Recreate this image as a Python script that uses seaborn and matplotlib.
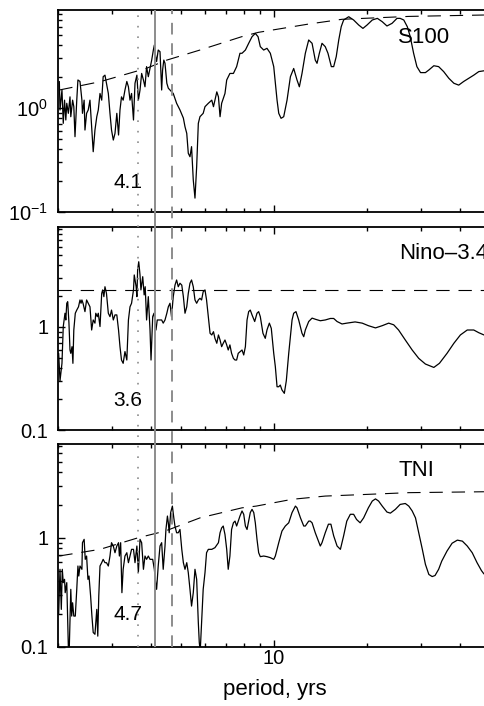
import numpy as np
import pandas as pd
import matplotlib
matplotlib.use("Agg")
import matplotlib.pyplot as plt
import matplotlib.ticker as mticker
import seaborn as sns

# S100 spectrum (period in yrs, power) + significance curve
s100_period = [2.02, 2.03, 2.06, 2.08, 2.10, 2.12, 2.135, 2.16, 2.187, 2.20,
               2.23, 2.25, 2.27, 2.30, 2.32, 2.356, 2.39, 2.40, 2.43, 2.445,
               2.475, 2.505, 2.538, 2.60, 2.634, 2.67, 2.70, 2.735, 2.77, 2.80,
               2.838, 2.87, 2.91, 2.946, 2.98, 3.02, 3.058, 3.10, 3.14, 3.174,
               3.21, 3.25, 3.294, 3.34, 3.38, 3.42, 3.46, 3.51, 3.55, 3.60,
               3.64, 3.685, 3.73, 3.78, 3.824, 3.87, 3.92, 3.97, 4.02, 4.07,
               4.10, 4.14, 4.17, 4.22, 4.277, 4.33, 4.36, 4.40, 4.439, 4.50,
               4.55, 4.607, 4.72, 4.84, 4.963, 5.09, 5.152, 5.22, 5.28, 5.347,
               5.41, 5.48, 5.55, 5.62, 5.69, 5.76, 5.90, 5.98, 6.13, 6.29,
               6.37, 6.53, 6.61, 6.69, 6.77, 6.94, 7.03, 7.20, 7.39, 7.57,
               7.76, 7.88, 8.08, 8.28, 8.49, 8.70, 8.88, 9.03, 9.26, 9.49,
               9.73, 9.98, 10.1, 10.23, 10.36, 10.54, 10.75, 11.02, 11.3, 11.58,
               11.87, 12.08, 12.32, 12.63, 12.95, 13.28, 13.6, 13.78, 14.02, 14.3,
               14.65, 14.95, 15.33, 15.6, 15.9, 16.2, 16.5, 16.8, 17.45, 18.1,
               18.8, 19.4, 20.0, 20.8, 21.6, 22.4, 23.2, 24.1, 25.0, 25.6,
               26.3, 27.0, 27.6, 28.3, 29.0, 29.8, 30.9, 31.7, 32.9, 34.1,
               35.4, 36.8, 38.2, 39.6, 41.1, 42.7, 44.3, 46.0, 47.8]
s100_power = [1.80, 0.957, 1.49, 0.712, 1.19, 0.767, 1.11, 0.889, 1.28, 0.825,
              1.19, 1.03, 0.530, 1.19, 1.86, 1.80, 1.19, 0.889, 1.19, 0.614,
              0.889, 0.957, 1.19, 0.380, 0.614, 0.825, 0.957, 1.38, 1.19, 2.00,
              2.07, 1.73, 1.38, 0.889, 0.614, 0.492, 0.570, 0.889, 0.55, 0.957,
              1.28, 1.19, 1.49, 1.80, 1.60, 1.19, 1.38, 0.767, 1.73, 2.07,
              1.19, 1.49, 2.15, 1.86, 1.60, 2.50, 2.00, 2.42, 2.89, 3.61,
              4.03, 3.12, 2.80, 3.61, 3.48, 1.49, 2.32, 2.89, 2.69, 1.73,
              1.55, 1.49, 1.38, 1.11, 0.957, 0.80, 0.661, 0.570, 0.367, 0.340,
              0.425, 0.203, 0.136, 0.273, 0.712, 0.825, 0.889, 1.03, 1.11, 1.19,
              1.03, 1.43, 1.28, 0.825, 1.11, 1.38, 1.86, 2.15, 2.15, 2.50,
              3.36, 3.36, 3.61, 4.19, 4.85, 5.22, 4.85, 3.89, 3.61, 3.75,
              3.36, 2.50, 1.73, 1.19, 0.889, 0.796, 0.825, 1.19, 2.00, 2.40,
              1.86, 1.60, 2.15, 3.36, 4.51, 4.19, 2.89, 2.69, 3.36, 4.19,
              3.89, 3.36, 2.50, 2.50, 3.12, 4.51, 6.05, 7.02, 7.55, 7.02,
              6.28, 5.83, 6.28, 7.02, 7.28, 6.76, 6.15, 6.52, 7.28, 7.28,
              7.02, 6.05, 4.85, 3.36, 2.50, 2.19, 2.19, 2.32, 2.55, 2.50,
              2.24, 1.93, 1.73, 1.66, 1.80, 1.93, 2.07, 2.24, 2.28]
s100_sig_period = [2.02, 2.735, 3.87, 4.5, 5.76, 7.86, 8.9, 12.95, 16.6, 27.3, 47.8]
s100_sig = [1.49, 1.79, 2.41, 2.89, 3.61, 4.85, 5.34, 6.42, 7.13, 7.6, 7.84]

# Nino-3.4 spectrum
nino_period = [2.01, 2.03, 2.06, 2.08, 2.107, 2.12, 2.135, 2.15, 2.17, 2.187,
               2.20, 2.22, 2.235, 2.25, 2.275, 2.30, 2.33, 2.356, 2.375, 2.39,
               2.41, 2.445, 2.475, 2.505, 2.538, 2.57, 2.60, 2.634, 2.65, 2.68,
               2.70, 2.735, 2.77, 2.79, 2.815, 2.838, 2.87, 2.91, 2.946, 2.98,
               3.02, 3.058, 3.10, 3.14, 3.174, 3.21, 3.25, 3.294, 3.34, 3.38,
               3.42, 3.46, 3.51, 3.53, 3.58, 3.60, 3.62, 3.65, 3.685, 3.71,
               3.76, 3.80, 3.83, 3.87, 3.92, 3.97, 4.0, 4.05, 4.09, 4.15,
               4.19, 4.25, 4.33, 4.38, 4.439, 4.50, 4.55, 4.607, 4.66, 4.72,
               4.782, 4.84, 4.90, 4.963, 5.03, 5.09, 5.152, 5.22, 5.28, 5.347,
               5.41, 5.48, 5.55, 5.62, 5.69, 5.76, 5.83, 5.90, 5.98, 6.05,
               6.13, 6.21, 6.29, 6.37, 6.44, 6.53, 6.61, 6.69, 6.77, 6.85,
               6.94, 7.03, 7.11, 7.20, 7.29, 7.39, 7.48, 7.57, 7.66, 7.88,
               7.98, 8.08, 8.18, 8.28, 8.38, 8.49, 8.66, 8.81, 8.92, 9.03,
               9.21, 9.37, 9.49, 9.66, 9.80, 9.98, 10.1, 10.23, 10.36, 10.48,
               10.61, 10.8, 10.96, 11.16, 11.44, 11.58, 11.78, 12.02, 12.32, 12.48,
               12.63, 12.95, 13.28, 13.6, 14.12, 14.65, 15.22, 15.6, 16.0, 16.6,
               17.2, 18.3, 19.3, 20.2, 21.3, 22.4, 23.5, 24.4, 25.3, 26.6,
               28.0, 29.4, 30.9, 32.9, 34.3, 36.3, 38.2, 40.1, 42.2, 44.3,
               46.0, 47.8]
nino_power = [0.555, 0.30, 0.444, 1.01, 1.36, 1.17, 1.70, 1.76, 1.09, 0.598,
              0.555, 0.644, 0.444, 0.935, 1.36, 1.46, 1.57, 1.83, 1.70, 1.83,
              1.70, 1.41, 1.83, 1.70, 1.57, 0.935, 1.17, 1.09, 1.36, 1.26,
              1.36, 1.01, 2.12, 2.29, 1.97, 2.46, 2.12, 1.36, 1.26, 1.46,
              1.17, 1.31, 1.31, 0.935, 0.644, 0.478, 0.444, 0.577, 0.478, 1.17,
              1.57, 1.70, 2.29, 3.2, 2.46, 1.97, 3.58, 4.3, 3.2, 2.29,
              3.08, 2.05, 2.46, 1.17, 1.97, 0.935, 0.478, 1.26, 1.36, 0.935,
              1.17, 1.17, 1.17, 1.09, 1.17, 1.36, 1.57, 1.70, 1.26, 1.97,
              2.55, 2.86, 2.46, 2.66, 2.55, 1.97, 1.36, 1.57, 2.12, 2.66,
              2.86, 2.46, 1.83, 1.70, 1.83, 1.90, 1.83, 2.20, 2.29, 1.83,
              1.26, 0.869, 0.837, 0.90, 0.776, 0.695, 0.837, 0.748, 0.644, 0.695,
              0.748, 0.67, 0.598, 0.67, 0.555, 0.496, 0.478, 0.478, 0.555, 0.598,
              0.535, 0.644, 1.17, 1.41, 1.46, 1.31, 1.13, 1.36, 1.41, 1.26,
              0.869, 0.776, 0.935, 1.09, 0.97, 0.555, 0.412, 0.263, 0.263, 0.273,
              0.245, 0.227, 0.30, 0.555, 1.17, 1.36, 1.41, 1.17, 0.869, 0.805,
              0.935, 1.13, 1.22, 1.19, 1.15, 1.17, 1.21, 1.21, 1.13, 1.07,
              1.09, 1.12, 1.09, 1.03, 0.98, 1.03, 1.09, 1.05, 0.935, 0.748,
              0.598, 0.496, 0.437, 0.405, 0.444, 0.555, 0.695, 0.837, 0.935, 0.935,
              0.88, 0.837]
nino_sig = 2.29

# TNI spectrum
tni_period = [2.01, 2.03, 2.05, 2.065, 2.08, 2.10, 2.11, 2.135, 2.16, 2.175,
              2.20, 2.215, 2.23, 2.25, 2.275, 2.30, 2.32, 2.335, 2.356, 2.39,
              2.40, 2.43, 2.45, 2.475, 2.50, 2.52, 2.55, 2.575, 2.60, 2.634,
              2.67, 2.69, 2.71, 2.735, 2.77, 2.80, 2.838, 2.87, 2.91, 2.946,
              2.98, 3.02, 3.058, 3.10, 3.14, 3.16, 3.19, 3.22, 3.25, 3.294,
              3.34, 3.38, 3.42, 3.46, 3.51, 3.55, 3.60, 3.64, 3.685, 3.73,
              3.78, 3.824, 3.87, 3.92, 3.97, 4.05, 4.10, 4.14, 4.17, 4.22,
              4.277, 4.33, 4.38, 4.439, 4.47, 4.52, 4.55, 4.58, 4.63, 4.66,
              4.69, 4.74, 4.78, 4.84, 4.90, 4.963, 5.03, 5.09, 5.152, 5.22,
              5.28, 5.347, 5.41, 5.48, 5.55, 5.62, 5.69, 5.73, 5.77, 5.83,
              5.90, 5.98, 6.05, 6.13, 6.29, 6.44, 6.61, 6.69, 6.77, 6.85,
              6.94, 7.03, 7.11, 7.20, 7.29, 7.39, 7.48, 7.57, 7.76, 7.88,
              7.98, 8.08, 8.18, 8.28, 8.38, 8.49, 8.60, 8.70, 8.81, 8.92,
              9.03, 9.26, 9.49, 9.73, 9.98, 10.1, 10.36, 10.61, 10.88, 11.16,
              11.44, 11.73, 11.87, 12.18, 12.48, 12.63, 12.95, 13.1, 13.28, 13.6,
              14.12, 14.3, 14.65, 15.0, 15.28, 15.6, 16.0, 16.4, 16.8, 17.2,
              17.66, 18.1, 18.5, 19.0, 19.5, 20.2, 20.8, 21.3, 21.8, 22.4,
              23.2, 23.8, 24.7, 25.6, 26.6, 27.3, 28.0, 28.7, 29.4, 30.2,
              30.9, 31.7, 32.5, 33.2, 34.1, 34.9, 36.3, 37.7, 39.2, 40.7,
              42.2, 43.8, 45.4, 46.9, 47.8]
tni_power = [0.20, 0.513, 0.22, 0.513, 0.387, 0.415, 0.313, 0.387, 0.101, 0.095,
             0.336, 0.191, 0.253, 0.191, 0.191, 0.336, 0.550, 0.445, 0.550, 0.513,
             0.90, 0.966, 0.633, 0.679, 0.415, 0.445, 0.292, 0.191, 0.135, 0.13,
             0.220, 0.125, 0.292, 0.550, 0.590, 0.633, 0.590, 0.590, 0.550, 0.679,
             0.90, 0.839, 0.728, 0.839, 0.90, 0.679, 0.90, 0.313, 0.513, 0.679,
             0.728, 0.590, 0.679, 0.782, 0.782, 0.590, 0.839, 0.478, 0.966, 0.90,
             0.513, 0.679, 0.633, 0.679, 0.633, 0.633, 0.513, 0.387, 0.336, 0.550,
             0.839, 0.90, 0.513, 0.839, 1.19, 1.58, 1.37, 1.11, 1.70, 1.82,
             1.95, 1.52, 1.28, 1.11, 1.11, 1.19, 0.782, 0.590, 0.513, 0.590,
             0.478, 0.336, 0.236, 0.313, 0.513, 0.415, 0.166, 0.11, 0.09, 0.166,
             0.336, 0.478, 0.728, 0.782, 0.782, 0.81, 0.90, 1.11, 1.23, 1.28,
             1.07, 0.782, 0.513, 0.679, 1.19, 1.37, 1.42, 1.28, 1.58, 1.76,
             1.64, 1.28, 1.19, 1.42, 1.70, 1.82, 1.70, 1.37, 0.966, 0.728,
             0.67, 0.679, 0.67, 0.656, 0.633, 0.679, 0.90, 1.15, 1.28, 1.37,
             1.70, 1.95, 1.88, 1.52, 1.28, 1.28, 1.42, 1.42, 1.37, 1.11,
             0.839, 0.90, 1.11, 1.33, 1.33, 1.04, 0.839, 0.782, 1.04, 1.42,
             1.64, 1.64, 1.47, 1.37, 1.52, 1.88, 2.17, 2.27, 2.17, 1.95,
             1.72, 1.68, 1.82, 2.02, 2.06, 1.95, 1.76, 1.52, 1.11, 0.782,
             0.57, 0.46, 0.44, 0.45, 0.513, 0.61, 0.755, 0.89, 0.95, 0.93,
             0.839, 0.728, 0.590, 0.50, 0.465]
tni_sig_period = [2.02, 2.735, 3.64, 4.44, 5.76, 7.88, 8.76, 11.44, 14.65, 20.2, 27.3, 47.8]
tni_sig = [0.68, 0.782, 1.0, 1.15, 1.52, 1.88, 1.95, 2.25, 2.41, 2.50, 2.59, 2.64]

# marked periods: dotted, solid, dashed
mark_period = [3.63, 4.12, 4.67]
panel_names = ["S100", "Nino–3.4", "TNI"]
panel_marks = ["4.1", "3.6", "4.7"]

sns.set_style("ticks")
plt.rcParams["font.family"] = ["Liberation Sans", "DejaVu Sans"]
plt.rcParams["mathtext.fontset"] = "custom"
plt.rcParams["mathtext.rm"] = "Liberation Sans"
plt.rcParams["mathtext.it"] = "Liberation Sans:italic"
plt.rcParams["mathtext.default"] = "regular"
plt.rcParams["text.color"] = "black"
plt.rcParams["xtick.color"] = "black"
plt.rcParams["ytick.color"] = "black"
plt.rcParams["axes.labelcolor"] = "black"

W, H = 484, 706
fig = plt.figure(figsize=(W / 100, H / 100), dpi=100)
left = 58 / W
width = (490 - 58) / W
boxes = [(10, 212), (227, 430), (444, 646.7)]
ylims = [(0.1, 8.76), (0.1, 9.35), (0.1, 7.24)]

spectra = [
    pd.DataFrame({"period": s100_period, "power": s100_power}),
    pd.DataFrame({"period": nino_period, "power": nino_power}),
    pd.DataFrame({"period": tni_period, "power": tni_power}),
]

axes = []
for i, (top, bot) in enumerate(boxes):
    ax = fig.add_axes([left, 1 - bot / H, width, (bot - top) / H])
    ax.set_xscale("log")
    ax.set_yscale("log")
    sns.lineplot(data=spectra[i], x="period", y="power", ax=ax, color="black",
                 lw=0.9, sort=False, estimator=None)
    ax.set_xlim(2, 50)
    ax.set_ylim(*ylims[i])
    ax.set_xlabel("")
    ax.set_ylabel("")

    ax.xaxis.set_major_locator(mticker.FixedLocator([10]))
    ax.xaxis.set_major_formatter(mticker.FixedFormatter(["10"]))
    ax.xaxis.set_minor_locator(mticker.LogLocator(base=10, subs=np.arange(2, 10), numticks=20))
    ax.xaxis.set_minor_formatter(mticker.NullFormatter())
    ax.yaxis.set_major_locator(mticker.FixedLocator([0.1, 1]))
    if i == 0:
        ax.yaxis.set_major_formatter(mticker.FixedFormatter([r"$10^{-1}$", r"$10^{0}$"]))
    else:
        ax.yaxis.set_major_formatter(mticker.FixedFormatter(["0.1", "1"]))
    ax.yaxis.set_minor_locator(mticker.LogLocator(base=10, subs=np.arange(2, 10), numticks=20))
    ax.yaxis.set_minor_formatter(mticker.NullFormatter())

    ax.tick_params(which="both", direction="in", top=True, right=False,
                   width=1, colors="black", labelsize=14.5)
    ax.tick_params(which="major", length=5)
    ax.tick_params(which="minor", length=3)
    ax.tick_params(axis="y", pad=7)
    ax.tick_params(axis="x", pad=1.5)
    if i < 2:
        ax.tick_params(labelbottom=False)
    for sp in ax.spines.values():
        sp.set_linewidth(1.3)
        sp.set_color("black")
    axes.append(ax)

# significance levels
axes[0].plot(s100_sig_period, s100_sig, color="black", lw=0.8, dashes=(12, 8))
axes[1].axhline(nino_sig, color="black", lw=0.8, dashes=(12, 8))
axes[2].plot(tni_sig_period, tni_sig, color="black", lw=0.8, dashes=(12, 8))

# labels inside panels
axes[0].text(0.161, 0.146, panel_marks[0], transform=axes[0].transAxes, ha="center", va="center", fontsize=15)
axes[1].text(0.161, 0.145, panel_marks[1], transform=axes[1].transAxes, ha="center", va="center", fontsize=15)
axes[2].text(0.161, 0.161, panel_marks[2], transform=axes[2].transAxes, ha="center", va="center", fontsize=15)
axes[0].text(0.847, 0.864, panel_names[0], transform=axes[0].transAxes, ha="center", va="center", fontsize=16)
axes[1].text(0.789, 0.867, panel_names[1], transform=axes[1].transAxes, ha="left", va="center", fontsize=16)
axes[2].text(0.829, 0.867, panel_names[2], transform=axes[2].transAxes, ha="center", va="center", fontsize=16)

# vertical period markers spanning all panels
ov = fig.add_axes([left, 1 - 646.7 / H, width, (646.7 - 10) / H])
ov.set_xscale("log")
ov.set_xlim(2, 50)
ov.axis("off")
ov.patch.set_alpha(0)
ov.axvline(mark_period[0], color="0.55", lw=1.2, dashes=(1, 5.3))
ov.axvline(mark_period[1], color="0.55", lw=1.4)
ov.axvline(mark_period[2], color="0.55", lw=1.4, dashes=(6, 4.5))

fig.text(274.4 / W, 1 - 690 / H, "period, yrs", ha="center", va="center", fontsize=16)

fig.savefig("out.png", dpi=100)
